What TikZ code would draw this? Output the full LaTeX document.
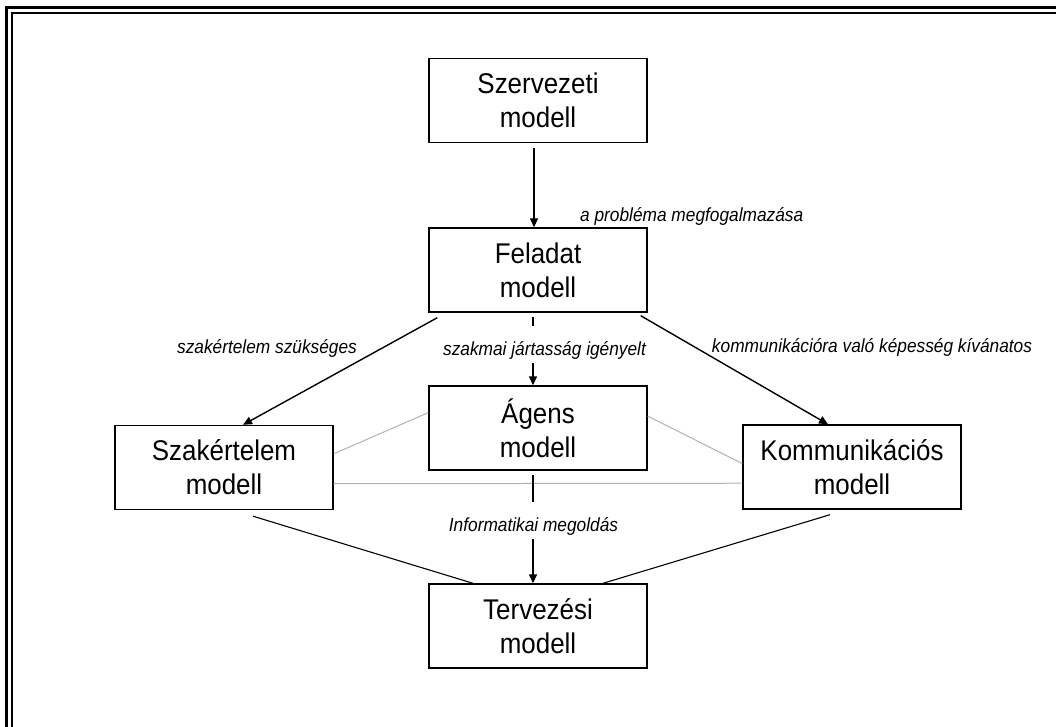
\documentclass[tikz,border=0pt]{standalone}
\usepackage{fontspec}
\usetikzlibrary{arrows.meta,calc}
\newfontfamily\lsans[FakeStretch=0.91]{Liberation Sans}
\tikzset{
  model/.style={draw=black, line width=1.4pt, fill=white, minimum width=218pt,
    minimum height=84pt, inner sep=0pt, align=center,
    font=\lsans\fontsize{28.5}{34}\selectfont},
  arr/.style={line width=1.4pt, -{Triangle[length=9pt,width=8pt]}},
  link/.style={line width=1.1pt},
  faint/.style={line width=1pt, draw=black!30},
  lbl/.style={font=\lsans\itshape\fontsize{19}{22}\selectfont, inner sep=0pt},
  cover/.style={lbl, fill=white, inner xsep=2pt, inner ysep=0pt,
    text height=29pt, text depth=7.5pt},
  frameline/.style={line cap=rect}
}
\begin{document}
\begin{tikzpicture}[x=1pt, y=-1pt]
\useasboundingbox (0,0) rectangle (1056,727);
% double frame along the top and left edges
\draw[frameline, line width=3pt] (6.5,727) -- (6.5,7.5) -- (1056,7.5);
\draw[frameline, line width=2pt] (12,727) -- (12,13) -- (1056,13);

% model boxes
\node[model] (szerv)  at (538,100.5) {Szervezeti\\modell};
\node[model] (felad)  at (538,270)   {Feladat\\modell};
\node[model] (agens)  at (538,428)   {Ágens\\modell};
\node[model] (szak)   at (224,467.5) {Szakértelem\\modell};
\node[model] (komm)   at (852,467)   {Kommunikációs\\modell};
\node[model] (terv)   at (538,626)   {Tervezési\\modell};

% light links between the three middle models
\draw[faint] ($(szak.north east)!0.34!(szak.south east)$) -- ($(agens.north west)!0.32!(agens.south west)$);
\draw[faint] ($(agens.north east)!0.36!(agens.south east)$) -- ($(komm.north west)!0.46!(komm.south west)$);
\draw[faint] ($(szak.north east)!0.69!(szak.south east)$) -- ($(komm.north west)!0.69!(komm.south west)$);

% arrows
\draw[arr, shorten <=5pt] ([xshift=-4pt]szerv.south) -- ([xshift=-4pt]felad.north);
\draw[arr] ([xshift=9pt,yshift=-5pt]felad.south west) -- ([xshift=19pt]szak.north);
\draw[arr] ([xshift=-7pt,yshift=-3pt]felad.south east) -- ([xshift=-24pt]komm.north);
\draw[arr, shorten <=4pt] ([xshift=-5pt]felad.south) -- ([xshift=-5pt]agens.north);
\draw[arr, shorten <=4pt] ([xshift=-5pt]agens.south) -- ([xshift=-5pt]terv.north);

% plain links into the design model
\draw[link] ([xshift=29pt,yshift=-6pt]szak.south) -- ([xshift=-65pt]terv.north);
\draw[link] ([xshift=-22pt,yshift=-5pt]komm.south) -- ([xshift=65pt]terv.north);

% labels
\node[lbl, anchor=base west] (lprob) at (580,222) {a probléma megfogalmazása};
\node[lbl, anchor=base] (lszak) at (267,353) {szakértelem szükséges};
\node[lbl, anchor=base] (lkomm) at (872,352) {kommunikációra való képesség kívánatos};
\node[cover, anchor=base] (ljart) at (544.5,355) {szakmai jártasság igényelt};
\node[cover, anchor=base] (linfo) at (533.5,531) {Informatikai megoldás};
\end{tikzpicture}
\end{document}
